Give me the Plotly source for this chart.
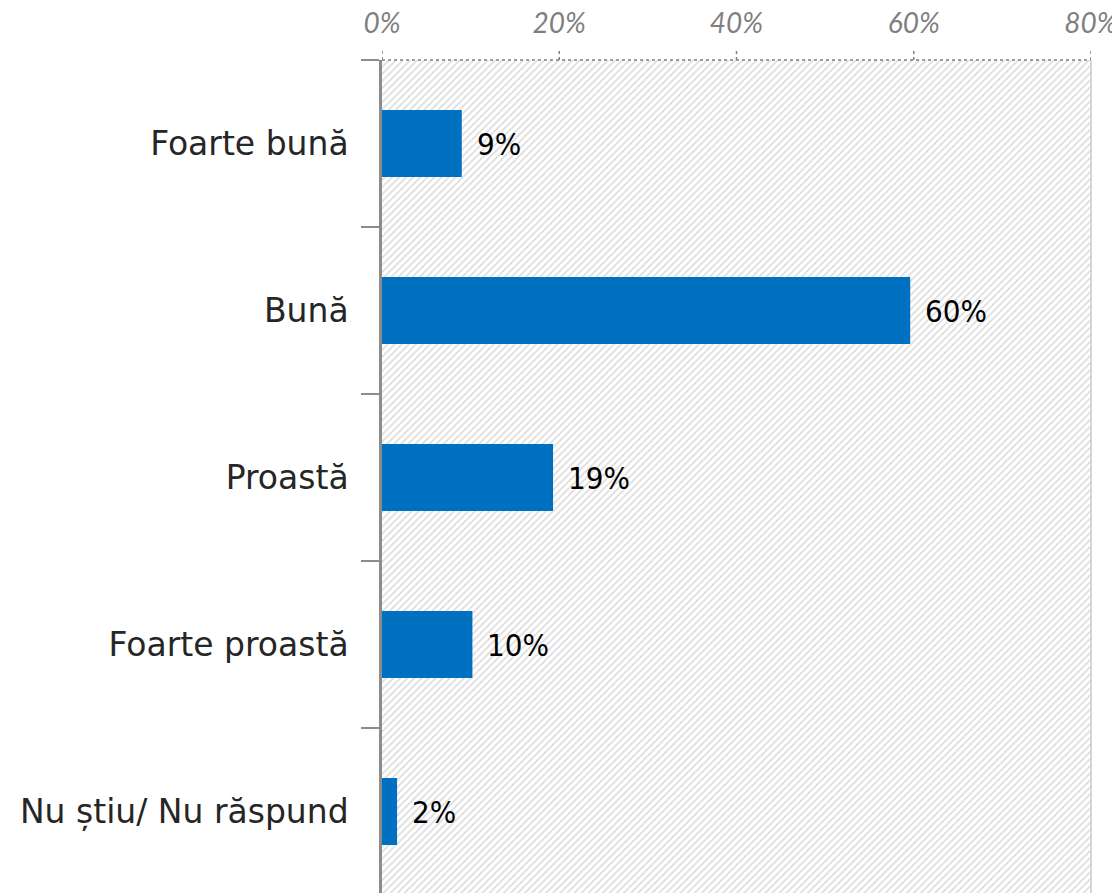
import plotly.graph_objects as go

categories = ["Foarte bună", "Bună", "Proastă", "Foarte proastă", "Nu știu/ Nu răspund"]
values = [9.0, 59.6, 19.3, 10.2, 1.7]
value_labels = ["9%", "60%", "19%", "10%", "2%"]
x_ticks = [0, 20, 40, 60, 80]
x_tick_labels = ["0%", "20%", "40%", "60%", "80%"]
x_max = 80

fig = go.Figure()

# hatched plot background
fig.add_trace(go.Bar(
    y=categories, x=[x_max] * len(categories), orientation="h", width=1.0,
    marker=dict(color="white", line=dict(width=0),
                pattern=dict(shape="/", fgcolor="#b4b4b4", bgcolor="white", size=5, solidity=0.3)),
    hoverinfo="skip", showlegend=False,
))

fig.add_trace(go.Bar(
    y=categories, x=values, orientation="h", width=0.4,
    marker=dict(color="#0070C0", line=dict(width=0)),
    showlegend=False,
))

for c, v, t in zip(categories, values, value_labels):
    fig.add_annotation(x=v, y=c, text=t, showarrow=False, xanchor="left", yanchor="middle",
                       xshift=13, font=dict(family="DejaVu Sans Condensed", size=31, color="#000000"))

# dotted tick marks on the top axis
for tx in x_ticks:
    fig.add_shape(type="line", xref="x", yref="paper", x0=tx, x1=tx, y0=1.0, y1=1.013,
                  line=dict(color="#808080", width=1.5, dash="dot"))
# dotted top border
fig.add_shape(type="line", xref="paper", yref="paper", x0=0, x1=1, y0=1, y1=1,
              line=dict(color="#808080", width=1.5, dash="dot"))
# right border
fig.add_shape(type="line", xref="paper", yref="paper", x0=1, x1=1, y0=0, y1=1,
              line=dict(color="#c8c8c8", width=1.5))

fig.update_layout(
    width=1112, height=885,
    margin=dict(l=374, r=29, t=52, b=0),
    barmode="overlay",
    plot_bgcolor="white", paper_bgcolor="white",
    xaxis=dict(side="top", range=[0, x_max], tickvals=x_ticks, ticktext=x_tick_labels,
               showgrid=False, zeroline=False, showline=False, ticks="", automargin=False,
               tickfont=dict(family="Lato", size=28, color="#7f7f7f", style="italic"),
               ticklabelstandoff=20, fixedrange=True),
    yaxis=dict(categoryorder="array", categoryarray=categories,
               range=[4.488, -0.5], showgrid=False, zeroline=False, automargin=False,
               showline=True, linecolor="#8c8c8c", linewidth=2.5,
               ticks="outside", tickson="boundaries", ticklen=18, tickwidth=2, tickcolor="#8c8c8c",
               tickfont=dict(family="DejaVu Sans", size=33, color="#262626"),
               ticklabelstandoff=24, fixedrange=True),
)

fig.write_html("out.html")
